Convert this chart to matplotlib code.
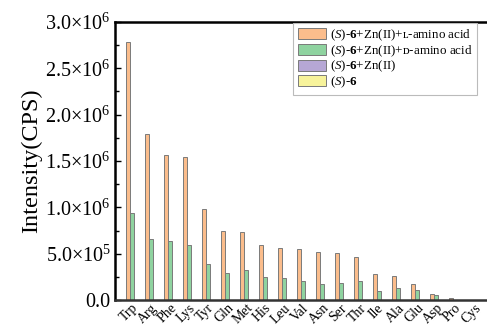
import matplotlib
matplotlib.use("Agg")
import matplotlib.pyplot as plt
import matplotlib.transforms as mtrans
import numpy as np
from matplotlib.ticker import MultipleLocator, FuncFormatter

plt.rcParams['font.family'] = ['Liberation Serif', 'DejaVu Serif']
plt.rcParams['mathtext.fontset'] = 'custom'
plt.rcParams['mathtext.rm'] = 'Liberation Serif'
plt.rcParams['mathtext.it'] = 'Liberation Serif:italic'
plt.rcParams['mathtext.bf'] = 'Liberation Serif:bold'
plt.rcParams['mathtext.fallback'] = 'stix'

amino_acids = ["Trp", "Arg", "Phe", "Lys", "Tyr", "Gln", "Met", "His", "Leu", "Val",
               "Asn", "Ser", "Thr", "Ile", "Ala", "Glu", "Asp", "Pro", "Cys"]
l_amino = [2.78e6, 1.79e6, 1.56e6, 1.54e6, 0.98e6, 0.74e6, 0.73e6, 0.59e6, 0.565e6, 0.55e6,
           0.52e6, 0.51e6, 0.465e6, 0.28e6, 0.255e6, 0.175e6, 0.065e6, 0.018e6, 0.004e6]
d_amino = [0.935e6, 0.655e6, 0.64e6, 0.59e6, 0.385e6, 0.29e6, 0.32e6, 0.25e6, 0.237e6, 0.21e6,
           0.17e6, 0.18e6, 0.20e6, 0.097e6, 0.13e6, 0.105e6, 0.05e6, 0.005e6, 0.002e6]
s6_zn = [2e3, 2e3, 2e3, 2e3, 2e3, 2e3, 2e3, 2e3, 2e3, 2e3,
         2e3, 2e3, 2e3, 2e3, 2e3, 2e3, 2e3, 2e3, 2e3]
s6 = [1e3, 1e3, 1e3, 1e3, 1e3, 1e3, 1e3, 1e3, 1e3, 1e3,
      1e3, 1e3, 1e3, 1e3, 1e3, 1e3, 1e3, 1e3, 1e3]

labels = [r"($\mathit{S}$)-$\mathbf{6}$+Zn(II)+ʟ-amino acid",
          r"($\mathit{S}$)-$\mathbf{6}$+Zn(II)+ᴅ-amino acid",
          r"($\mathit{S}$)-$\mathbf{6}$+Zn(II)",
          r"($\mathit{S}$)-$\mathbf{6}$"]
colors = ["#FBBD8C", "#8FD3A0", "#B6A7D5", "#F7F39B"]
series = [l_amino, d_amino, s6_zn, s6]

fig = plt.figure(figsize=(4.87, 3.31), dpi=100)
ax = fig.add_axes([115/487, 31/331, 389.5/487, 278/331])

x = np.arange(len(amino_acids))
w = 4/19
offsets = [-1.5*w, -0.5*w, 0.5*w, 1.5*w]
for vals, c, lab, off in zip(series, colors, labels, offsets):
    ax.bar(x + off, vals, width=w, color=c, edgecolor="#7a7a7a", linewidth=0.7, label=lab)

ax.set_xlim(-1.0, 19.5)
ax.set_ylim(0, 3.0e6)
ax.set_xticks(x)
ax.set_xticklabels(amino_acids, rotation=45, ha='center', fontsize=10)
ax.tick_params(axis='x', length=0, pad=1)
shift = mtrans.ScaledTranslation(-5/100, 0, fig.dpi_scale_trans)
for lbl in ax.get_xticklabels():
    lbl.set_transform(lbl.get_transform() + shift)

ax.yaxis.set_major_locator(MultipleLocator(0.5e6))
ax.yaxis.set_minor_locator(MultipleLocator(0.25e6))

def fmt(v, pos):
    if abs(v) < 1:
        return "0.0"
    if v < 0:
        return ""
    e = int(np.floor(np.log10(v) + 1e-9))
    m = v / 10**e
    return r"%.1f$\times$10$^{%d}$" % (m, e)

ax.yaxis.set_major_formatter(FuncFormatter(fmt))
ax.tick_params(axis='y', which='major', direction='in', length=4, width=1, labelsize=14.5, pad=3)
ax.tick_params(axis='y', which='minor', direction='in', length=3, width=1)
ax.set_ylabel("Intensity(CPS)", fontsize=17.5, labelpad=2)

for s in ['left', 'top', 'bottom']:
    ax.spines[s].set_linewidth(1.8)
    ax.spines[s].set_color('black')
ax.spines['bottom'].set_color('#333333')
ax.spines['right'].set_visible(False)

fs = 9.4
px = fs * 100 / 72
leg = ax.legend(loc='upper left', bbox_to_anchor=((293-115)/389.5, 1.0 - 1/278), fontsize=fs,
                frameon=True, fancybox=False, edgecolor='#bbbbbb', framealpha=1,
                handlelength=28/px, handleheight=12/px, labelspacing=0.02,
                handletextpad=4/px, borderpad=0.35, borderaxespad=0.0)
leg.get_frame().set_linewidth(0.8)

fig.savefig("out.png", dpi=100)
